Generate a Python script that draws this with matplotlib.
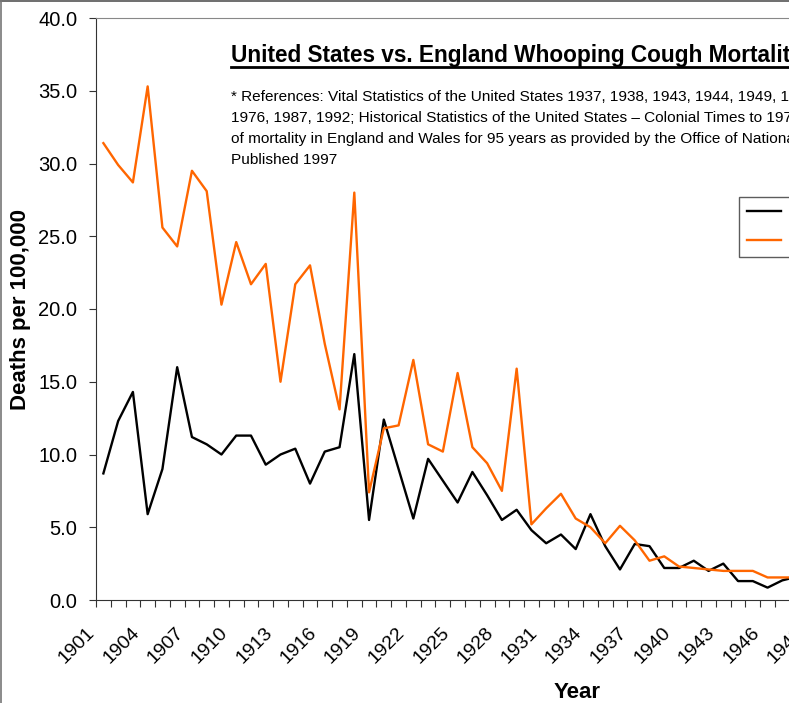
import numpy as np
import matplotlib.pyplot as plt
import matplotlib.transforms as mtransforms
from matplotlib.lines import Line2D
from matplotlib.ticker import MultipleLocator, FormatStrFormatter

plt.rcParams['font.family'] = ['Liberation Sans', 'DejaVu Sans']

# categories on the x axis (the chart runs past the right edge of the crop)
years = list(range(1901, 1966))

# deaths per 100,000 (1901 onwards)
us = [8.7, 12.3, 14.3, 5.9, 9.0, 16.0, 11.2, 10.7, 10.0, 11.3,
      11.3, 9.3, 10.0, 10.4, 8.0, 10.2, 10.5, 16.9, 5.5, 12.4,
      9.0, 5.6, 9.7, 8.2, 6.7, 8.8, 7.2, 5.5, 6.2, 4.8,
      3.9, 4.5, 3.5, 5.9, 3.7, 2.1, 3.85, 3.7, 2.2, 2.2,
      2.7, 2.0, 2.5, 1.3, 1.3, 0.85, 1.35, 1.6]
england = [31.4, 29.9, 28.7, 35.3, 25.6, 24.3, 29.5, 28.1, 20.3, 24.6,
           21.7, 23.1, 15.0, 21.7, 23.0, 17.6, 13.1, 28.0, 7.4, 11.8,
           12.0, 16.5, 10.7, 10.2, 15.6, 10.5, 9.4, 7.5, 15.9, 5.2,
           6.3, 7.3, 5.6, 5.0, 3.9, 5.1, 4.1, 2.7, 3.0, 2.3,
           2.2, 2.1, 2.0, 2.0, 2.0, 1.55, 1.55, 1.55]

title = "United States vs. England Whooping Cough Mortality"
refs = [
    "* References: Vital Statistics of the United States 1937, 1938, 1943, 1944, 1949, 1950, 1960, 1970, 1974,",
    "1976, 1987, 1992; Historical Statistics of the United States \u2013 Colonial Times to 1970; Twentieth Century",
    "of mortality in England and Wales for 95 years as provided by the Office of National Statistics,",
    "Published 1997",
]

W, H = 789, 703
fig = plt.figure(figsize=(W / 100, H / 100), dpi=100)

# plot area in pixels; it is wider than the picture, as in the cropped original
ax_l, ax_b, ax_w, ax_h = 96, 103, 962, 582
cat_px = 14.76
ax = fig.add_axes([ax_l / W, ax_b / H, ax_w / W, ax_h / H])

ax.plot(np.arange(len(us)), us, color='black', lw=1.7, label='United States')
ax.plot(np.arange(len(england)), england, color='#FF6600', lw=1.7, label='England')

ax.set_xlim(-0.5, -0.5 + ax_w / cat_px)
ax.set_ylim(0, 40)

ax.yaxis.set_major_locator(MultipleLocator(5))
ax.yaxis.set_major_formatter(FormatStrFormatter('%.1f'))
ax.tick_params(axis='y', direction='out', length=5, width=0.8, color='#333333',
               pad=8.5, labelsize=14.5)

pos = np.arange(len(years))
ax.set_xticks(pos[::3])
ax.set_xticks(np.arange(-0.5, len(years) + 0.5, 1), minor=True)
ax.tick_params(axis='x', which='major', length=0, pad=22, labelsize=14)
ax.tick_params(axis='x', which='minor', direction='out', length=5, width=0.8,
               color='#333333')
ax.set_xticklabels([str(y) for y in years[::3]], rotation=45, ha='right',
                   va='center', rotation_mode='anchor')
shift = mtransforms.ScaledTranslation(-11 / 100, 0, fig.dpi_scale_trans)
for lab in ax.get_xticklabels():
    lab.set_transform(lab.get_transform() + shift)

for side in ['left', 'bottom']:
    ax.spines[side].set_color('#333333')
    ax.spines[side].set_linewidth(0.8)
ax.spines['top'].set_color('#888888')
ax.spines['top'].set_linewidth(0.8)
ax.spines['right'].set_visible(False)

ax.set_ylabel('Deaths per 100,000', fontsize=16, fontweight='bold', va='center')
ax.yaxis.set_label_coords((21 - ax_l) / ax_w, 0.5)
ax.set_xlabel('Year', fontsize=16, fontweight='bold', va='baseline')
ax.xaxis.set_label_coords(0.5, -(698 - 600) / ax_h)

# title with underline
fig.text(231 / W, 1 - 61.7 / H, title, fontsize=16.3, fontweight='bold',
         ha='left', va='baseline')
fig.add_artist(Line2D([231 / W, 1.3], [1 - 66.5 / H] * 2, color='black',
                      lw=2, transform=fig.transFigure))

for k, line in enumerate(refs):
    fig.text(231 / W, 1 - (100.7 + 21.2 * k) / H, line, fontsize=11.1,
             ha='left', va='baseline')

leg = fig.legend(loc='upper left', bbox_to_anchor=(739 / W, 1 - 197 / H),
                 bbox_transform=fig.transFigure, fontsize=12, frameon=True,
                 fancybox=False, borderpad=0.5, labelspacing=0.8,
                 handlelength=2.0, borderaxespad=0)
leg.get_frame().set_edgecolor('#333333')
leg.get_frame().set_linewidth(1.0)

# chart frame edges visible at top and left of the crop
fig.add_artist(Line2D([0, 1], [1 - 0.5 / H] * 2, color='#555555', lw=1.2,
                      transform=fig.transFigure))
fig.add_artist(Line2D([0.5 / W] * 2, [0, 1], color='#777777', lw=1.2,
                      transform=fig.transFigure))

fig.savefig('out.png', dpi=100)
